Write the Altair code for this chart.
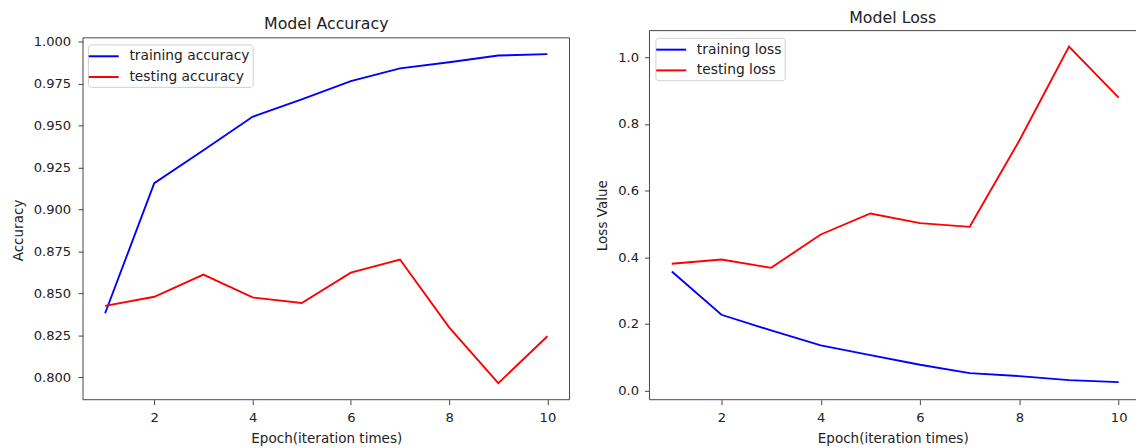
import altair as alt
import pandas as pd

epochs = [1, 2, 3, 4, 5, 6, 7, 8, 9, 10]
train_acc = [0.8382, 0.9157, 0.9353, 0.9553, 0.9657, 0.9765, 0.9841, 0.9878, 0.9918, 0.9926]
test_acc = [0.8426, 0.8480, 0.8612, 0.8476, 0.8443, 0.8624, 0.8702, 0.8298, 0.7965, 0.8245]
train_loss = [0.357, 0.227, 0.180, 0.135, 0.106, 0.077, 0.052, 0.043, 0.031, 0.025]
test_loss = [0.380, 0.393, 0.368, 0.468, 0.531, 0.502, 0.491, 0.750, 1.032, 0.879]

acc_names = ["training accuracy", "testing accuracy"]
loss_names = ["training loss", "testing loss"]
acc_ticks = [0.800, 0.825, 0.850, 0.875, 0.900, 0.925, 0.950, 0.975, 1.000]
loss_ticks = [0.0, 0.2, 0.4, 0.6, 0.8, 1.0]
x_ticks = [2, 4, 6, 8, 10]

FONT = "DejaVu Sans"
TXT = "#222222"
FRAME = "#444444"
W = 493
H = 374
ACC_TOP = 7.3  # left frame starts a little below the shared view top

acc_df = pd.DataFrame({
    "epoch": epochs * 2,
    "value": train_acc + test_acc,
    "series": [acc_names[0]] * 10 + [acc_names[1]] * 10,
})
loss_df = pd.DataFrame({
    "epoch": epochs * 2,
    "value": train_loss + test_loss,
    "series": [loss_names[0]] * 10 + [loss_names[1]] * 10,
})
one = pd.DataFrame({"k": [0]})


def legend(lx, ly):
    return alt.Legend(
        title=None, orient="none", legendX=lx, legendY=ly,
        symbolType="M-2,0H2", symbolSize=230, symbolStrokeWidth=2,
        symbolOffset=4, labelOffset=17,
        labelFontSize=14, labelFont=FONT, labelColor=TXT,
        fillColor="white", strokeColor="#d0d0d0", cornerRadius=3,
        padding=3, rowPadding=5,
    )


def axis_x():
    return alt.Axis(
        title="Epoch(iteration times)", values=x_ticks, format="d", grid=False,
        tickSize=5, tickColor=FRAME, domain=False, labelPadding=6,
        labelFontSize=13.3, labelFont=FONT, labelColor=TXT,
        titleFontSize=13.7, titleFont=FONT, titleColor=TXT,
        titleFontWeight="normal", titlePadding=8,
    )


def rule(x, x2, y, y2):
    return alt.Chart(one).mark_rule(color=FRAME, strokeWidth=1).encode(
        x=alt.value(x), x2=alt.value(x2), y=alt.value(y), y2=alt.value(y2)
    )


acc_lines = alt.Chart(acc_df).mark_line(strokeWidth=1.9, clip=True).encode(
    x=alt.X("epoch:Q", scale=alt.Scale(domain=[0.55, 10.45], nice=False, zero=False), axis=axis_x()),
    y=alt.Y("value:Q", scale=alt.Scale(domain=[0.78665, 1.00664], nice=False, zero=False),
            axis=alt.Axis(title="Accuracy", values=acc_ticks, format=".3f", grid=False,
                          tickSize=5, tickColor=FRAME, domain=False, labelPadding=7.5,
                          labelFontSize=13.3, labelFont=FONT, labelColor=TXT,
                          titleFontSize=13.7, titleFont=FONT, titleColor=TXT,
                          titleFontWeight="normal", titlePadding=8, titleY=202)),
    color=alt.Color("series:N", scale=alt.Scale(domain=acc_names, range=["#0000ff", "#ff0000"]),
                    legend=legend(5, 14)),
)

acc_chart = alt.layer(
    rule(0, W, ACC_TOP, ACC_TOP),
    rule(0, W, H, H),
    rule(0, 0, ACC_TOP, H),
    rule(W, W, ACC_TOP, H),
    acc_lines,
).properties(
    width=W, height=H,
    view=alt.ViewBackground(stroke=None),
    title=alt.TitleParams("Model Accuracy", fontSize=16, font=FONT, color=TXT,
                          fontWeight="normal", offset=-1.3),
)

loss_lines = alt.Chart(loss_df).mark_line(strokeWidth=1.9, clip=True).encode(
    x=alt.X("epoch:Q", scale=alt.Scale(domain=[0.55, 10.35], nice=False, zero=False), axis=axis_x()),
    y=alt.Y("value:Q", scale=alt.Scale(domain=[-0.028, 1.080], nice=False, zero=False),
            axis=alt.Axis(title="Loss Value", values=loss_ticks, format=".1f", grid=False,
                          tickSize=5, tickColor=FRAME, domain=False, labelPadding=6,
                          labelFontSize=13.3, labelFont=FONT, labelColor=TXT,
                          titleFontSize=13.7, titleFont=FONT, titleColor=TXT,
                          titleFontWeight="normal", titlePadding=8)),
    color=alt.Color("series:N", scale=alt.Scale(domain=loss_names, range=["#0000ff", "#ff0000"]),
                    legend=legend(6, 7.3)),
)

loss_chart = alt.layer(
    rule(0, W, 0, 0),
    rule(0, W, H, H),
    rule(0, 0, 0, H),
    loss_lines,
).properties(
    width=W, height=H,
    view=alt.ViewBackground(stroke=None),
    title=alt.TitleParams("Model Loss", fontSize=16, font=FONT, color=TXT,
                          fontWeight="normal", offset=4.7),
)

chart = alt.hconcat(acc_chart, loss_chart, spacing=25).resolve_scale(
    color="independent"
).resolve_legend(color="independent").configure_view(
    stroke=None
).properties(
    padding={"left": 3, "top": -2, "right": 0, "bottom": 0}
)

chart.save("out.html", embed_options={"renderer": "svg", "actions": False})
